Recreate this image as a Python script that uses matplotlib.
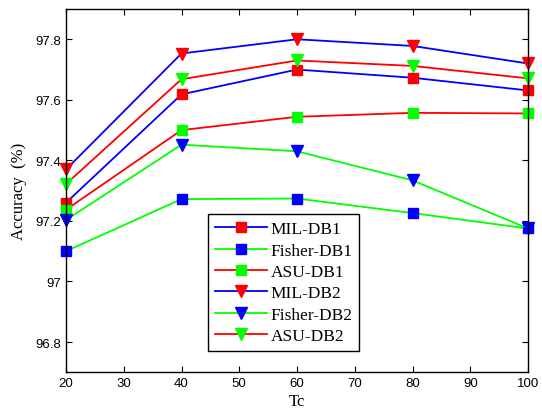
import numpy as np
import matplotlib.pyplot as plt

tc = [20, 40, 60, 80, 100]

mil_db1 = [97.26, 97.618, 97.70, 97.673, 97.631]
fisher_db1 = [97.10, 97.272, 97.274, 97.226, 97.175]
asu_db1 = [97.237, 97.50, 97.544, 97.557, 97.555]
mil_db2 = [97.37, 97.753, 97.80, 97.778, 97.72]
fisher_db2 = [97.203, 97.452, 97.43, 97.334, 97.175]
asu_db2 = [97.322, 97.668, 97.73, 97.712, 97.671]

R, G, B = '#ff0000', '#00ff00', '#0000ff'

# (label, values, line colour, marker colour, marker)
series = [
    ("MIL-DB1", mil_db1, B, R, 's'),
    ("Fisher-DB1", fisher_db1, G, B, 's'),
    ("ASU-DB1", asu_db1, R, G, 's'),
    ("MIL-DB2", mil_db2, B, R, 'v'),
    ("Fisher-DB2", fisher_db2, G, B, 'v'),
    ("ASU-DB2", asu_db2, R, G, 'v'),
]

fig = plt.figure(figsize=(5.42, 4.10), dpi=100)
ax = fig.add_axes([66/542, 36.7/410, 462/542, 363.3/410])

for label, vals, lc, mc, mk in series:
    ms = 7 if mk == 's' else 8.5
    ax.plot(tc, vals, color=lc, lw=1.3, marker=mk, ms=ms,
            markerfacecolor=mc, markeredgecolor=mc, label=label, clip_on=False)

ax.set_xlim(20, 100)
ax.set_ylim(96.7, 97.9)
ax.set_xticks(np.arange(20, 101, 10))
ax.set_yticks([96.8, 97.0, 97.2, 97.4, 97.6, 97.8])
ax.set_yticklabels(["96.8", "97", "97.2", "97.4", "97.6", "97.8"])
ax.tick_params(direction='in', top=True, right=True, length=4, width=0.8,
               labelsize=9.5)
for t in ax.get_xticklabels() + ax.get_yticklabels():
    t.set_family('Liberation Sans')
for s in ax.spines.values():
    s.set_linewidth(1.0)

ax.set_xlabel("Tc", family='Liberation Serif', fontsize=12, labelpad=3)
ax.set_ylabel("Accuracy  (%)", family='Liberation Serif', fontsize=12, labelpad=6)

leg = ax.legend(loc='lower left', bbox_to_anchor=(0.307, 0.0586),
                borderaxespad=0, fancybox=False, framealpha=1,
                edgecolor='black', handlelength=3.0, handletextpad=0.2,
                labelspacing=0.3, borderpad=0.4,
                prop={'family': 'Liberation Serif', 'size': 12.5})
leg.get_frame().set_linewidth(1.0)

fig.savefig("out.png", dpi=100)
